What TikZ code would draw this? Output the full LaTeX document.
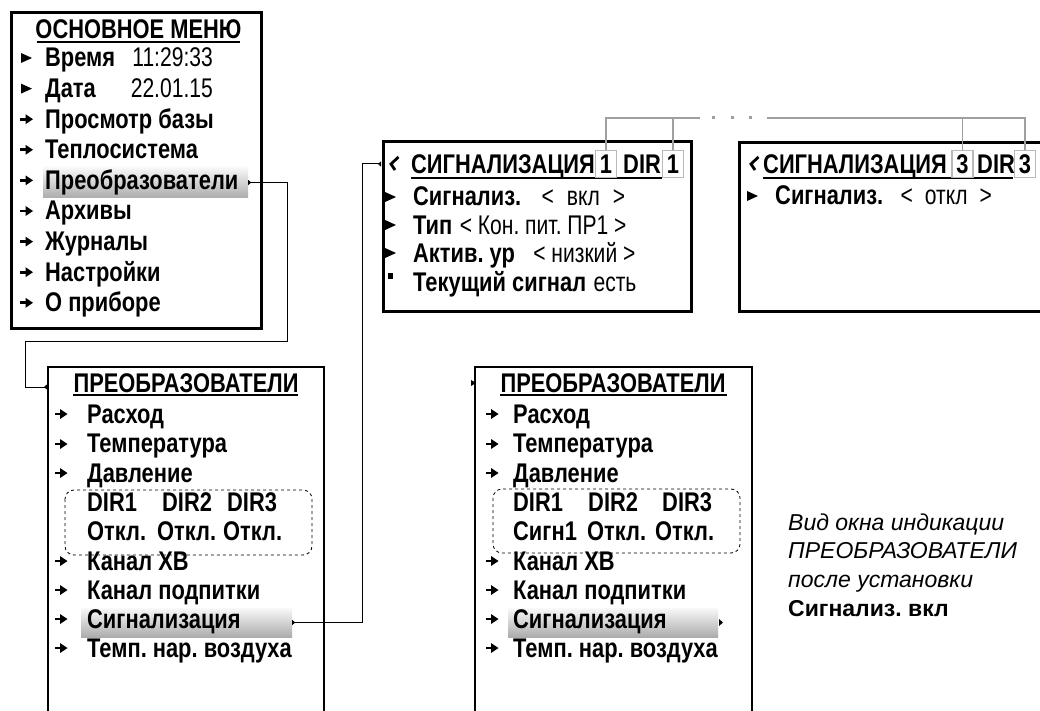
\documentclass[tikz,border=0pt]{standalone}
\usepackage{fontspec}
\usetikzlibrary{arrows.meta}
\newfontfamily\narfont{Liberation Sans}[FakeStretch=0.81]
\newfontfamily\narrfont{Liberation Sans}[FakeStretch=0.78]
\newfontfamily\widefont{Liberation Sans}
\newcommand\mbold{\frenchspacing\narfont\bfseries\fontsize{27}{27}\selectfont}
\newcommand\mreg{\frenchspacing\narrfont\fontsize{27}{27}\selectfont}
\newcommand\sreg{\frenchspacing\widefont\fontsize{23}{23}\selectfont}
\tikzset{
  lbl/.style={anchor=base west, inner sep=0pt, font=\mbold},
  val/.style={anchor=base west, inner sep=0pt, font=\mreg},
  vale/.style={anchor=base east, inner sep=0pt, font=\mreg},
  ttl/.style={anchor=base, inner sep=0pt, font=\mbold},
  side/.style={anchor=base west, inner sep=0pt, font=\sreg},
  frame/.style={draw, line width=3pt, anchor=north west, inner sep=0pt},
  openframe/.style={draw, line width=2pt},
  hlbox/.style={inner sep=0pt, top color=gray!5, bottom color=gray!65, draw=none},
  numbox/.style={draw=gray!55, line width=1.3pt, inner sep=0pt, minimum width=21pt, minimum height=27pt, font=\mbold, fill=white},
  conn/.style={draw, line width=1pt, {Triangle[length=3pt,width=5pt,reversed]}-{Triangle[length=3pt,width=5pt,reversed]}},
  gline/.style={draw=gray!75, line width=1.8pt},
  uline/.style={draw, line width=1.6pt},
  dbox/.style={draw, dashed, rounded corners=9pt, line width=0.8pt},
  tri/.pic={\fill (-5,-5) -- (6,0) -- (-5,5) -- cycle;},
  arr/.pic={\fill (-6.5,-1.4) rectangle (0,1.4); \fill (-1,-5) -- (6.5,0) -- (-1,5) -- cycle;},
  sq/.pic={\fill (-2.5,-3) rectangle (2.5,3);},
  hook/.pic={\draw[line width=2.8pt, line join=miter] (4.5,-7) -- (-3,0) -- (1,6);}
}
\begin{document}
\begin{tikzpicture}[x=1pt,y=-1pt]
\useasboundingbox (0,0) rectangle (1040,711);
\clip (0,0) rectangle (1040,711);

% ---------- Box 1: main menu ----------
\node[frame, minimum width=250pt, minimum height=316pt] (b1) at (10,11) {};
\node[hlbox, minimum width=205pt, minimum height=31pt] (hl1) at (145.5,182.5) {};
\node[ttl] (t1) at (138.5,39) {ОСНОВНОЕ МЕНЮ};
\draw[uline] (37,42) -- (240,42);
\pic at (26,58) {tri};
\pic at (26,88.6) {tri};
\foreach \k in {2,...,8} { \pic at (26.5,58+30.6*\k) {arr}; }
\node[lbl] (m1) at (45,67) {Время};
\node[vale] (v1) at (213,67) {11:29:33};
\node[lbl] (m2) at (45,97.6) {Дата};
\node[vale] (v2) at (213,97.6) {22.01.15};
\node[lbl] (m3) at (45,128.2) {Просмотр базы};
\node[lbl] (m4) at (45,158.8) {Теплосистема};
\node[lbl] (m5) at (45,189.4) {Преобразователи};
\node[lbl] (m6) at (45,220) {Архивы};
\node[lbl] (m7) at (45,250.6) {Журналы};
\node[lbl] (m8) at (45,281.2) {Настройки};
\node[lbl] (m9) at (45,311.8) {О приборе};

% ---------- Box 2: left converters ----------
\draw[openframe] (48,720) -- (48,367) -- (324,367) -- (324,720);
\coordinate (b2in) at (47,387);
\node[hlbox, minimum width=211pt, minimum height=29pt] (hl2) at (186.5,622.5) {};
\node[ttl] (t2) at (186,392) {ПРЕОБРАЗОВАТЕЛИ};
\draw[uline] (73,395) -- (298,395);
\draw[dbox] (65,490) rectangle (312,555);
\foreach \yy in {414,444,473,561,590,619,648} { \pic at (61,\yy) {arr}; }
\node[lbl] (p1) at (87,423) {Расход};
\node[lbl] (p2) at (87,452.5) {Температура};
\node[lbl] (p3) at (87,482) {Давление};
\node[lbl] (d1) at (87,511.5) {DIR1};
\node[lbl] (d2) at (162,511.5) {DIR2};
\node[lbl] (d3) at (227,511.5) {DIR3};
\node[lbl] (o1) at (87,540.5) {Откл.};
\node[lbl] (o2) at (157,540.5) {Откл.};
\node[lbl] (o3) at (223,540.5) {Откл.};
\node[lbl] (p4) at (87,570) {Канал ХВ};
\node[lbl] (p5) at (87,599) {Канал подпитки};
\node[lbl] (p6) at (87,628) {Сигнализация};
\node[lbl] (p7) at (87,657) {Темп. нар. воздуха};

% ---------- Box 5: right converters ----------
\draw[openframe] (475,720) -- (475,367) -- (752,367) -- (752,720);
\fill (476,383) -- (471,380) -- (471,386) -- cycle;
\node[hlbox, minimum width=210pt, minimum height=29pt] (hl3) at (613,622.5) {};
\fill (719,619) -- (723,622.5) -- (719,626) -- cycle;
\node[ttl] (t5) at (613,392) {ПРЕОБРАЗОВАТЕЛИ};
\draw[uline] (500,395) -- (727,395);
\draw[dbox] (493,489) rectangle (740,553);
\foreach \yy in {414,444,473,561,590,619,648} { \pic at (492,\yy) {arr}; }
\node[lbl] (q1) at (513,423) {Расход};
\node[lbl] (q2) at (513,452.5) {Температура};
\node[lbl] (q3) at (513,482) {Давление};
\node[lbl] (e1) at (513,511.5) {DIR1};
\node[lbl] (e2) at (588,511.5) {DIR2};
\node[lbl] (e3) at (662,511.5) {DIR3};
\node[lbl] (f1) at (513,540.5) {Сигн1};
\node[lbl] (f2) at (587,540.5) {Откл.};
\node[lbl] (f3) at (655,540.5) {Откл.};
\node[lbl] (q4) at (513,570) {Канал ХВ};
\node[lbl] (q5) at (513,599) {Канал подпитки};
\node[lbl] (q6) at (513,628) {Сигнализация};
\node[lbl] (q7) at (513,657) {Темп. нар. воздуха};

% ---------- Box 3: alarm 1 ----------
\node[frame, minimum width=308pt, minimum height=170pt] (b3) at (382,140) {};
\coordinate (b3in) at (381,164);
\pic at (394,164) {hook};
\node[lbl] (s1) at (411,174) {СИГНАЛИЗАЦИЯ};
\draw[uline] (411,178) -- (662,178);
\node[numbox] (n1) at (606,164) {1};
\node[lbl] (s1d) at (623,174) {DIR};
\node[numbox] (n2) at (673,164) {1};
\pic at (390,197) {tri};
\pic at (390,225) {tri};
\pic at (390,253) {tri};
\pic at (390,276) {sq};
\node[lbl] (r1) at (413,206) {Сигнализ.};
\node[val] (r1v) at ([xshift=20pt]r1.base east) {<\hspace{13pt}вкл\hspace{13pt}>};
\node[lbl] (r2) at (413,234) {Тип};
\node[val] (r2v) at ([xshift=7pt]r2.base east) {< Кон. пит. ПР1 >};
\node[lbl] (r3) at (413,262) {Актив. ур};
\node[val] (r3v) at ([xshift=18pt]r3.base east) {< низкий >};
\node[lbl] (r4) at (413,291) {Текущий сигнал};
\node[val] (r4v) at ([xshift=7pt]r4.base east) {есть};

% ---------- Box 4: alarm 3 ----------
\node[frame, minimum width=320pt, minimum height=169pt] (b4) at (738,141) {};
\pic at (754,164) {hook};
\node[lbl] (s3) at (763,174) {СИГНАЛИЗАЦИЯ};
\draw[uline] (763,178) -- (1013,178);
\node[numbox] (n3) at (962.5,164) {3};
\node[lbl] (s3d) at (977,174) {DIR};
\node[numbox] (n4) at (1025,164) {3};
\pic at (752,196) {tri};
\node[lbl] (u1) at (775,205) {Сигнализ.};
\node[val] (u1v) at ([xshift=17pt]u1.base east) {<\hspace{12pt}откл\hspace{12pt}>};

% ---------- gray brackets ----------
\draw[gline] (n1.north) |- (n2.north |- 0,118) -- (n2.north);
\draw[gline] (n2.north |- 0,118) -- (700,118);
\foreach \xx in {713,732,750} { \fill[gray!75] (\xx-1.5,116.5) rectangle (\xx+1.5,119.5); }
\draw[gline] (767,118) -| (n4.north);
\draw[gline] (n3.north) -- (n3.north |- 0,118);

% ---------- connectors ----------
\draw[conn] (hl1.east) -- (287,182.5) -- (287,341) -- (25,341) -- (25,387) -- (b2in);
\draw[conn] (hl2.east) -- (362,622.5) -- (362,164) -- (b3in);

% ---------- side note ----------
\node[side, font=\sreg\itshape] (c1) at (788,530) {Вид окна индикации};
\node[side, font=\sreg\itshape] (c2) at (788,558.5) {ПРЕОБРАЗОВАТЕЛИ};
\node[side, font=\sreg\itshape] (c3) at (788,587) {после установки};
\node[side, font=\sreg\bfseries] (c4) at (788,616) {Сигнализ. вкл};
\end{tikzpicture}
\end{document}
